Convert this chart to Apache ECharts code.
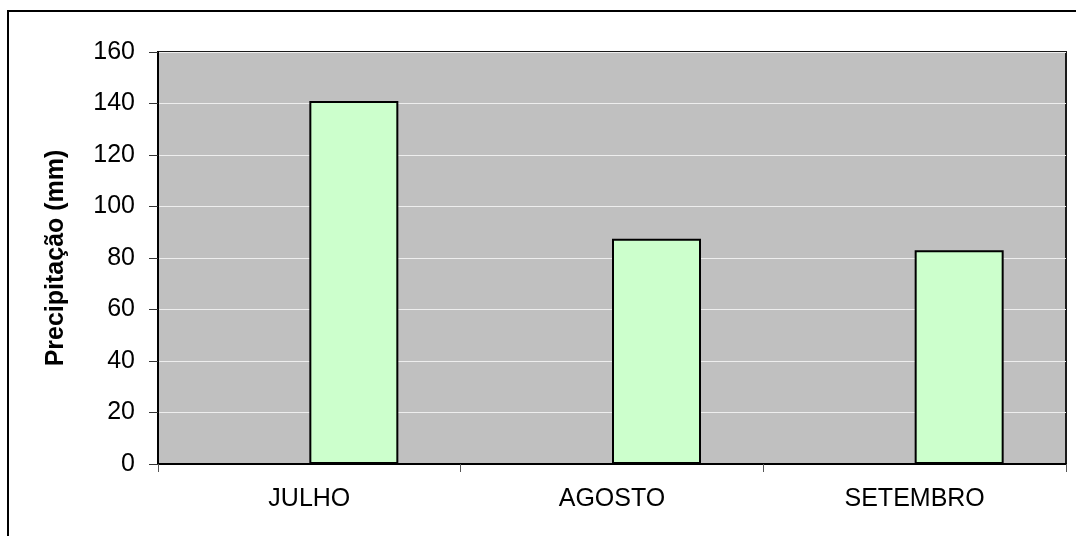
<!DOCTYPE html>
<html>
<head>
<meta charset="utf-8">
<style>
  html, body { margin: 0; padding: 0; background: #ffffff; }
  #chart { width: 1076px; height: 536px; }
</style>
<script src="https://cdn.jsdelivr.net/npm/echarts@6/dist/echarts.min.js"></script>
</head>
<body>
<div id="chart"></div>
<script>
// Monthly rainfall (mm)
const months = ['JULHO', 'AGOSTO', 'SETEMBRO'];
const precipitation = [141, 87.5, 83];
const placeholder = [null, null, null]; // empty first slot of the cluster
const yTicks = { min: 0, max: 160, interval: 20 };

const chart = echarts.init(document.getElementById('chart'), null, { renderer: 'canvas' });

const font = '"Liberation Sans", Arial, Helvetica, sans-serif';

chart.setOption({
  animation: false,
  backgroundColor: '#ffffff',
  graphic: [{
    type: 'rect',
    shape: { x: 8, y: 11, width: 1100, height: 560 },
    style: { fill: 'none', stroke: '#000000', lineWidth: 2 },
    silent: true
  }],
  grid: {
    left: 158, top: 52, right: 10, bottom: 72,
    show: true,
    backgroundColor: '#c0c0c0',
    borderColor: '#1a1a1a',
    borderWidth: 2
  },
  xAxis: {
    type: 'category',
    data: months,
    axisLine: { show: true, lineStyle: { color: '#000000', width: 2 } },
    axisTick: { show: true, length: 8, lineStyle: { color: '#555555', width: 1 } },
    axisLabel: { color: '#000000', fontFamily: font, fontSize: 25, margin: 23 },
    splitLine: { show: false }
  },
  yAxis: {
    type: 'value',
    min: yTicks.min,
    max: yTicks.max,
    interval: yTicks.interval,
    name: 'Precipitação (mm)',
    nameLocation: 'middle',
    nameGap: 89,
    nameRotate: 90,
    nameTextStyle: { color: '#000000', fontFamily: font, fontSize: 25, fontWeight: 'bold' },
    axisLine: { show: true, lineStyle: { color: '#000000', width: 2 } },
    axisTick: { show: true, inside: false, length: 9, lineStyle: { color: '#333333', width: 1 } },
    axisLabel: { color: '#000000', fontFamily: font, fontSize: 25, margin: 23 },
    splitLine: { show: true, lineStyle: { color: '#eeeeee', width: 1 } }
  },
  series: [
    {
      type: 'bar',
      data: placeholder,
      barWidth: 89,
      barGap: '0%',
      itemStyle: { color: 'transparent' }
    },
    {
      type: 'bar',
      data: precipitation,
      barWidth: 89,
      barGap: '0%',
      itemStyle: { color: '#ccffcc', borderColor: '#000000', borderWidth: 2 }
    }
  ]
});
</script>
</body>
</html>
